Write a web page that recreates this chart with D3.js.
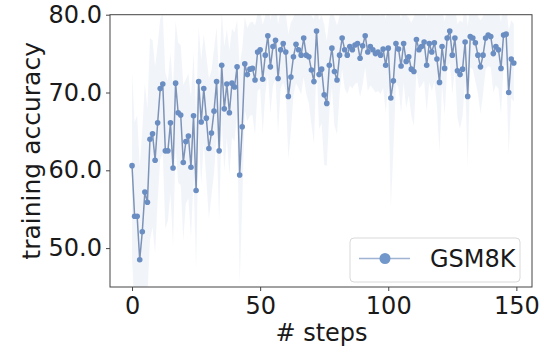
<!DOCTYPE html>
<html>
<head>
<meta charset="utf-8">
<script src="https://cdn.jsdelivr.net/npm/d3@7"></script>
<style>
  html, body { margin: 0; padding: 0; background: #fff; }
  svg { display: block; font-family: "DejaVu Sans", sans-serif; }
</style>
</head>
<body>
<svg id="chart" width="544" height="353"></svg>
<script>
// ---- data ----
const accuracy = [
  60.6, 54.1, 54.1, 48.5, 52.1, 57.2, 55.9, 64.0, 64.7, 61.3,
  66.1, 70.5, 71.1, 62.5, 62.5, 66.1, 60.3, 71.2, 67.4, 67.1,
  61.0, 63.7, 64.4, 60.4, 67.0, 57.4, 71.4, 66.2, 70.5, 66.7,
  62.8, 64.8, 67.6, 71.4, 62.5, 73.5, 67.9, 71.1, 67.4, 71.2,
  70.7, 73.3, 59.4, 65.6, 73.7, 72.3, 73.0, 73.1, 71.6, 75.2,
  75.5, 71.7, 74.8, 77.3, 73.3, 75.9, 76.7, 71.8, 75.5, 76.3,
  75.2, 69.5, 72.0, 74.6, 76.2, 75.5, 74.8, 77.0, 74.8, 74.6,
  72.9, 71.4, 77.9, 72.3, 73.0, 69.7, 68.6, 73.5, 75.7, 72.7,
  71.6, 74.8, 77.0, 75.5, 74.8, 75.9, 75.5, 76.1, 76.3, 74.4,
  76.0, 77.3, 75.2, 75.9, 75.5, 75.0, 75.2, 74.8, 75.6, 73.5,
  75.7, 69.3, 71.5, 76.3, 75.6, 73.4, 76.3, 74.0, 74.6, 73.0,
  72.7, 76.8, 75.5, 75.9, 76.5, 73.5, 76.3, 75.2, 76.4, 74.3,
  71.3, 75.9, 73.1, 77.0, 77.9, 74.8, 77.0, 72.8, 72.3, 73.0,
  76.5, 69.5, 77.2, 77.0, 76.4, 74.8, 73.3, 74.8, 77.0, 77.4,
  77.2, 75.0, 75.9, 75.5, 73.1, 77.4, 77.5, 70.0, 74.3, 73.8
];
// spread of the faint band around the mean
const spread = [
  12, 12, 13, 12, 13, 14, 12, 13, 12, 12,
  10, 9, 9, 10, 9, 9, 10, 8, 9, 9,
  10, 8, 8, 9, 8, 10, 7, 8, 7, 8,
  9, 8, 8, 7, 9, 7, 8, 7, 8, 7,
  7, 6, 14, 10, 6, 6, 6, 6, 7, 5,
  5, 7, 5, 5, 6, 5, 5, 7, 5, 5,
  5, 8, 7, 5, 5, 5, 5, 5, 5, 6,
  7, 8, 4, 7, 7, 9, 8, 6, 5, 7,
  7, 5, 4, 5, 5, 5, 5, 5, 5, 5,
  5, 4, 5, 5, 5, 5, 5, 5, 5, 6,
  5, 14, 9, 5, 5, 6, 5, 6, 5, 6,
  7, 4, 5, 5, 5, 6, 5, 5, 5, 6,
  9, 5, 6, 4, 4, 5, 4, 6, 7, 6,
  5, 9, 4, 4, 5, 5, 6, 5, 4, 4,
  4, 5, 5, 5, 6, 4, 4, 8, 5, 5
];
const steps = d3.range(accuracy.length);
const xTicks = [0, 50, 100, 150];
const yTicks = [50, 60, 70, 80];
const seriesName = "GSM8K";
const xLabel = "# steps";
const yLabel = "training accuracy";

// ---- layout ----
const svg = d3.select("#chart");
const L = 110, R = 532, T = 14.7, B = 287;

const x = d3.scaleLinear().domain([-8.6, 156.1]).range([L, R]);
const y = d3.scaleLinear().domain([45, 80]).range([B, T]);

const data = steps.map((s, i) => ({ s, v: accuracy[i], sd: spread[i] }));

svg.append("clipPath").attr("id", "clip")
  .append("rect").attr("x", L).attr("y", T).attr("width", R - L).attr("height", B - T);

const plot = svg.append("g").attr("clip-path", "url(#clip)");

// band
plot.append("path")
  .datum(data)
  .attr("fill", "#4c72b0")
  .attr("fill-opacity", 0.08)
  .attr("d", d3.area()
    .x(d => x(d.s))
    .y0(d => y(d.v - d.sd))
    .y1(d => y(d.v + d.sd)));

// line
plot.append("path")
  .datum(data)
  .attr("fill", "none")
  .attr("stroke", "#7d93b8")
  .attr("stroke-width", 1.5)
  .attr("d", d3.line().x(d => x(d.s)).y(d => y(d.v)));

// markers
plot.selectAll("circle.pt")
  .data(data)
  .enter().append("circle")
  .attr("class", "pt")
  .attr("cx", d => x(d.s))
  .attr("cy", d => y(d.v))
  .attr("r", 2.8)
  .attr("fill", "#6a8dc2");

// axes
const axisColor = "#444";
const xAxis = svg.append("g")
  .attr("transform", `translate(0,${B})`)
  .call(d3.axisBottom(x).tickValues(xTicks).tickSize(4).tickPadding(6).tickFormat(d3.format("d")));
const yAxis = svg.append("g")
  .attr("transform", `translate(${L},0)`)
  .call(d3.axisLeft(y).tickValues(yTicks).tickSize(4).tickPadding(4).tickFormat(d3.format(".1f")));

[xAxis, yAxis].forEach(g => {
  g.select(".domain").remove();
  g.selectAll(".tick line").attr("stroke", axisColor).attr("stroke-width", 1);
  g.selectAll(".tick text").attr("fill", "#1a1a1a").style("font-size", "24px")
    .style("font-family", "DejaVu Sans, sans-serif");
});

// frame
svg.append("rect")
  .attr("x", L).attr("y", T).attr("width", R - L).attr("height", B - T)
  .attr("fill", "none").attr("stroke", axisColor).attr("stroke-width", 1);

// axis labels
svg.append("text")
  .attr("x", (L + R) / 2 + 0.5).attr("y", 341)
  .attr("text-anchor", "middle")
  .attr("fill", "#1a1a1a")
  .style("font-size", "24px")
  .text(xLabel);

svg.append("text")
  .attr("transform", `translate(40,${(T + B) / 2 + 0}) rotate(-90)`)
  .attr("text-anchor", "middle")
  .attr("fill", "#1a1a1a")
  .style("font-size", "25px")
  .text(yLabel);

// legend
const lg = svg.append("g");
lg.append("rect")
  .attr("x", 350).attr("y", 238).attr("width", 170).attr("height", 44)
  .attr("rx", 4).attr("fill", "#fff").attr("fill-opacity", 0.85)
  .attr("stroke", "#d9d9d9").attr("stroke-width", 1);
lg.append("line")
  .attr("x1", 359).attr("x2", 410).attr("y1", 258.5).attr("y2", 258.5)
  .attr("stroke", "#9fb3d3").attr("stroke-width", 1.5);
lg.append("circle")
  .attr("cx", 385).attr("cy", 258.5).attr("r", 5.5)
  .attr("fill", "#7297cb");
lg.append("text")
  .attr("x", 430).attr("y", 267)
  .attr("fill", "#1a1a1a")
  .style("font-size", "24px")
  .text(seriesName);
</script>
</body>
</html>
